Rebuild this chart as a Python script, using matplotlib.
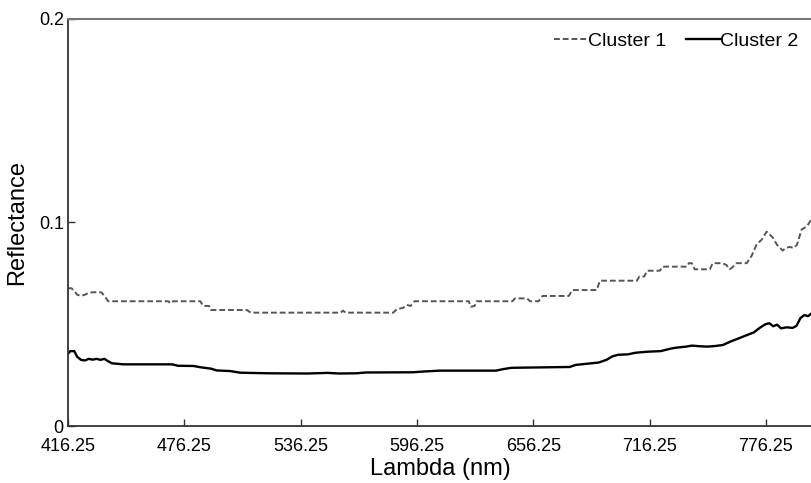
import matplotlib
matplotlib.use('Agg')
import matplotlib.pyplot as plt

plt.rcParams['font.family'] = ['Liberation Sans', 'DejaVu Sans']

# Data
wl_c1 = [416.25, 418.0, 419.5, 421.0, 423.0, 425.0, 427.0, 429.0, 433.5, 435.0,
         437.0, 468.0, 469.0, 470.5, 484.5, 486.0, 489.0, 490.0, 508.5, 510.5,
         557.0, 558.0, 559.5, 584.0, 586.0, 589.0, 591.0, 593.0, 595.0, 623.0,
         624.0, 626.0, 627.0, 645.5, 646.8, 653.0, 654.6, 659.0, 661.0, 674.5,
         676.5, 689.0, 690.6, 709.7, 711.0, 713.5, 715.0, 721.5, 723.0, 735.5,
         736.5, 738.0, 739.5, 747.3, 748.8, 754.0, 756.0, 757.5, 759.0, 761.0,
         766.3, 768.9, 771.5, 774.0, 776.6, 779.7, 782.0, 784.9, 786.5, 788.5,
         790.5, 792.2, 794.7, 797.3, 800.0]
refl_c1 = [0.0677, 0.0677, 0.0665, 0.0645, 0.0640, 0.0645, 0.0655, 0.0657, 0.0657, 0.0640,
           0.0613, 0.0613, 0.0603, 0.0613, 0.0613, 0.0590, 0.0590, 0.0570, 0.0570, 0.0557,
           0.0557, 0.0567, 0.0557, 0.0557, 0.0575, 0.0580, 0.0595, 0.0590, 0.0613, 0.0613,
           0.0586, 0.0590, 0.0613, 0.0613, 0.0627, 0.0627, 0.0613, 0.0613, 0.0639, 0.0639,
           0.0668, 0.0668, 0.0714, 0.0714, 0.0735, 0.0735, 0.0763, 0.0763, 0.0783, 0.0783,
           0.0800, 0.0800, 0.0770, 0.0770, 0.0800, 0.0800, 0.0790, 0.0770, 0.0780, 0.0800,
           0.0800, 0.0837, 0.0893, 0.0915, 0.0955, 0.0927, 0.0890, 0.0862, 0.0875, 0.0880,
           0.0875, 0.0890, 0.0966, 0.0980, 0.1020]

wl_c2 = [416.25, 417.5, 419.5, 421.0, 423.0, 425.0, 427.0, 429.0, 431.0, 433.0,
         435.0, 437.0, 439.0, 445.0, 470.0, 473.0, 481.0, 485.0, 490.0, 493.0,
         500.0, 505.0, 520.0, 540.0, 550.0, 556.0, 565.0, 570.0, 594.0, 600.0,
         608.0, 637.0, 641.0, 645.0, 660.0, 675.0, 678.0, 683.0, 690.0, 694.0,
         697.0, 700.0, 705.0, 709.0, 715.0, 722.0, 727.0, 730.0, 735.0, 738.0,
         742.0, 746.0, 750.0, 754.0, 758.0, 762.0, 766.0, 770.0, 773.0, 776.0,
         778.0, 780.0, 782.0, 784.0, 787.0, 790.0, 792.0, 794.0, 796.0, 798.0,
         800.0]
refl_c2 = [0.0355, 0.0368, 0.0368, 0.0340, 0.0325, 0.0322, 0.0330, 0.0326, 0.0330, 0.0325,
           0.0330, 0.0318, 0.0308, 0.0303, 0.0303, 0.0296, 0.0295, 0.0288, 0.0282, 0.0273,
           0.0270, 0.0262, 0.0259, 0.0258, 0.0261, 0.0258, 0.0259, 0.0263, 0.0264, 0.0268,
           0.0272, 0.0272, 0.0280, 0.0286, 0.0288, 0.0290, 0.0300, 0.0305, 0.0312, 0.0325,
           0.0342, 0.0350, 0.0352, 0.0360, 0.0365, 0.0368, 0.0380, 0.0385, 0.0390, 0.0395,
           0.0392, 0.0390, 0.0393, 0.0398, 0.0415, 0.0430, 0.0445, 0.0460, 0.0482, 0.0500,
           0.0505, 0.0490, 0.0498, 0.0480, 0.0485, 0.0482, 0.0492, 0.0530, 0.0545, 0.0540,
           0.0555]

x_ticks = [416.25, 476.25, 536.25, 596.25, 656.25, 716.25, 776.25]
y_ticks = [0, 0.1, 0.2]
y_tick_labels = ['0', '0.1', '0.2']

fig = plt.figure(figsize=(8.12, 4.83), dpi=100)
ax = fig.add_axes([0.0837, 0.118, 0.9163, 0.8427])

ax.plot(wl_c1, refl_c1, color='#555555', linestyle=(0, (3, 1.5)), linewidth=1.4, label='Cluster 1')
ax.plot(wl_c2, refl_c2, color='black', linestyle='-', linewidth=1.7, label='Cluster 2')

ax.set_xlim(416.25, 800)
ax.set_ylim(0, 0.2)
ax.set_xticks(x_ticks)
ax.set_xticklabels([f'{t:.2f}' for t in x_ticks])
ax.set_yticks(y_ticks)
ax.set_yticklabels(y_tick_labels)
ax.tick_params(direction='in', length=5, width=1, labelsize=13, color='#333333',
               labelcolor='black')
ax.tick_params(axis='x', pad=8.5)
ax.tick_params(axis='y', pad=3)

ax.spines['right'].set_visible(False)
ax.spines['top'].set_color('#777777')
ax.spines['top'].set_linewidth(1.5)
ax.spines['left'].set_color('#333333')
ax.spines['left'].set_linewidth(1.3)
ax.spines['bottom'].set_color('#333333')
ax.spines['bottom'].set_linewidth(1.3)

ax.set_xlabel('Lambda (nm)', fontsize=17, labelpad=2)
ax.set_ylabel('Reflectance', fontsize=17)
ax.yaxis.set_label_coords(-0.054, 0.5)

ax.legend(loc='upper right', ncol=2, frameon=False, fontsize=14, handlelength=1.75,
          handletextpad=0.0, columnspacing=1.0, borderaxespad=0.3,
          bbox_to_anchor=(1.0, 1.0))

fig.savefig('out.png', dpi=100)
